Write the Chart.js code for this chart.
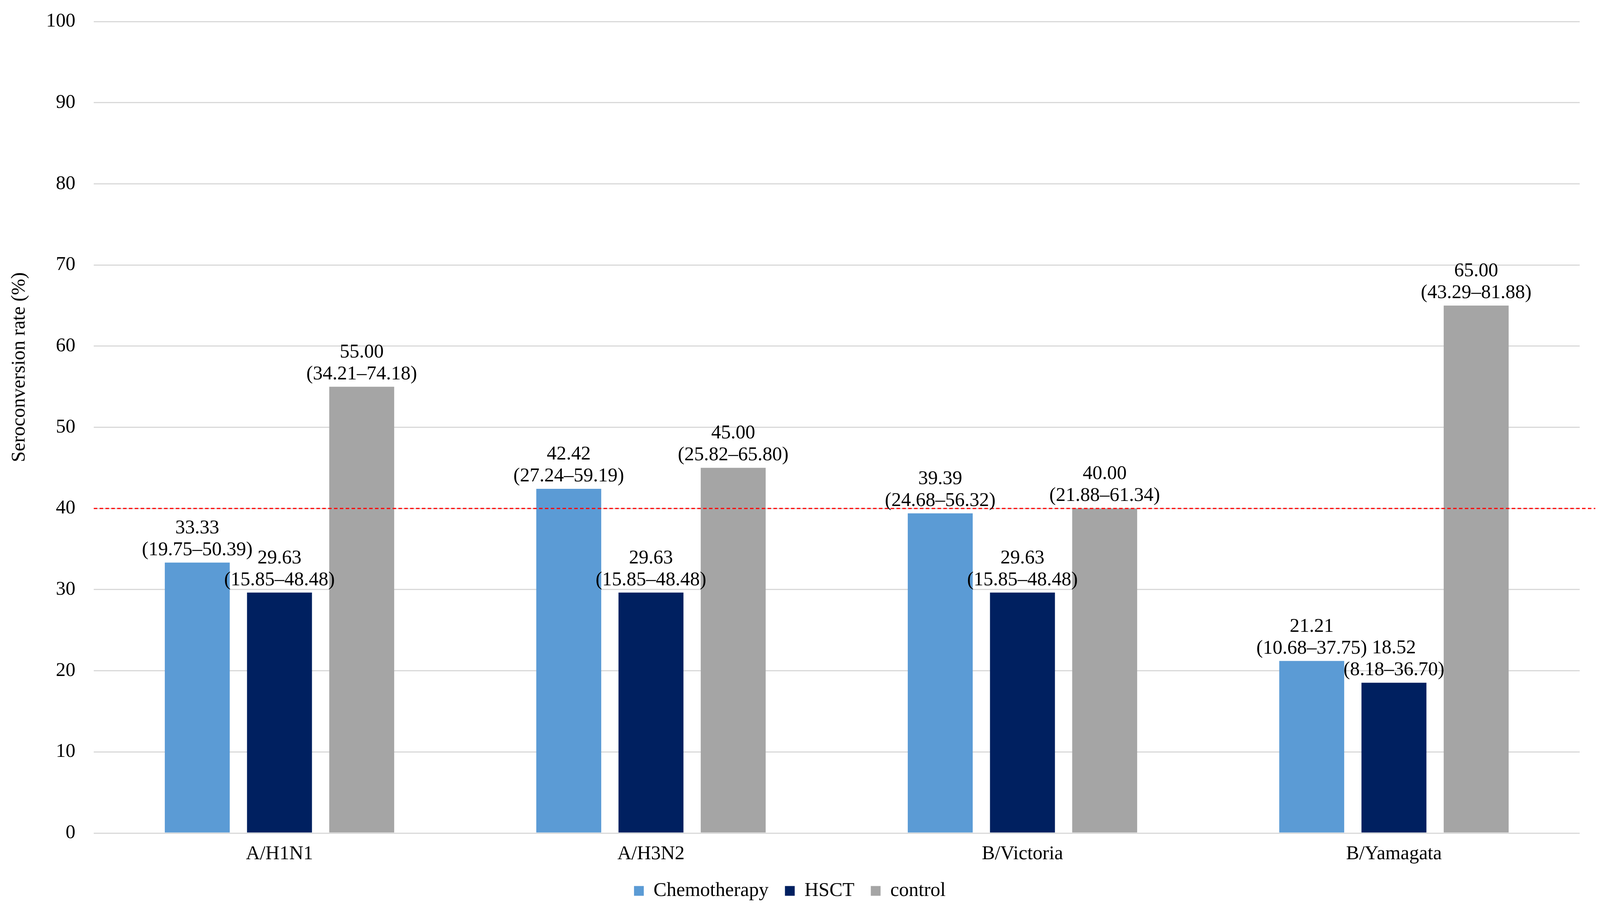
<!DOCTYPE html>
<html>
<head>
<meta charset="utf-8">
<script src="https://cdn.jsdelivr.net/npm/chart.js@4.4.0/dist/chart.umd.min.js"></script>
<style>
  html, body { margin: 0; padding: 0; background: #fff; }
  #wrap { width: 4117px; height: 2334px; }
</style>
</head>
<body>
<div id="wrap"><canvas id="chart" width="4117" height="2334"></canvas></div>
<script>
// --- Data ---
const categories = ['A/H1N1', 'A/H3N2', 'B/Victoria', 'B/Yamagata'];
const chemoValues = [33.33, 42.42, 39.39, 21.21];
const chemoCI = ['19.75–50.39', '27.24–59.19', '24.68–56.32', '10.68–37.75'];
const hsctValues = [29.63, 29.63, 29.63, 18.52];
const hsctCI = ['15.85–48.48', '15.85–48.48', '15.85–48.48', '8.18–36.70'];
const controlValues = [55.00, 45.00, 40.00, 65.00];
const controlCI = ['34.21–74.18', '25.82–65.80', '21.88–61.34', '43.29–81.88'];
const yTicks = [0, 10, 20, 30, 40, 50, 60, 70, 80, 90, 100];
const threshold = 40;
const yTitle = 'Seroconversion rate (%)';

const FONT = '"Liberation Serif", "Times New Roman", serif';
const ciLists = [chemoCI, hsctCI, controlCI];

// --- Plugins ---
const extras = {
    id: 'extras',
    beforeLayout(chart) {
        // keep the legend compact vertically while spacing items wider
        const legend = chart.legend;
        if (legend && !legend._patched) {
            const origFit = legend.fit;
            legend.fit = function () {
                origFit.call(this);
                this.height = 121;
            };
            legend._patched = true;
        }
    },
    afterDatasetsDraw(chart) {
        const { ctx, chartArea, scales } = chart;
        // dashed threshold line (runs a little past the plot, as in the original)
        const yPos = scales.y.getPixelForValue(threshold);
        ctx.save();
        ctx.strokeStyle = '#ff0000';
        ctx.lineWidth = 3;
        ctx.setLineDash([9, 6]);
        ctx.beginPath();
        ctx.moveTo(chartArea.left, yPos);
        ctx.lineTo(chartArea.right + 40, yPos);
        ctx.stroke();
        ctx.restore();

        // value labels with confidence intervals
        ctx.save();
        ctx.fillStyle = '#000';
        ctx.font = '50px ' + FONT;
        ctx.textAlign = 'center';
        ctx.textBaseline = 'middle';
        chart.data.datasets.forEach((ds, di) => {
            const meta = chart.getDatasetMeta(di);
            meta.data.forEach((bar, i) => {
                ctx.fillText(ds.data[i].toFixed(2), bar.x, bar.y - 88);
                ctx.fillText('(' + ciLists[di][i] + ')', bar.x, bar.y - 32);
            });
        });
        ctx.restore();

        // y axis title
        ctx.save();
        ctx.fillStyle = '#000';
        ctx.font = '50px ' + FONT;
        ctx.textAlign = 'center';
        ctx.textBaseline = 'middle';
        ctx.translate(50, chartArea.top + 0.426 * (chartArea.bottom - chartArea.top));
        ctx.rotate(-Math.PI / 2);
        ctx.fillText(yTitle, 0, 0);
        ctx.restore();
    }
};

// --- Chart ---
const ctx = document.getElementById('chart');
new Chart(ctx, {
    type: 'bar',
    data: {
        labels: categories,
        datasets: [
            { label: 'Chemotherapy', data: chemoValues, backgroundColor: '#5b9bd5' },
            { label: 'HSCT', data: hsctValues, backgroundColor: '#002060' },
            { label: 'control', data: controlValues, backgroundColor: '#a5a5a5' }
        ]
    },
    options: {
        responsive: false,
        devicePixelRatio: 1,
        animation: false,
        categoryPercentage: 0.664,
        barPercentage: 0.79,
        layout: { padding: { top: 55, right: 73, left: 0, bottom: 0 } },
        scales: {
            x: {
                grid: { display: false },
                border: { display: false },
                ticks: { color: '#000', font: { family: FONT, size: 50 }, padding: 16 },
                afterFit(scale) { scale.height = 81; }
            },
            y: {
                min: 0,
                max: 100,
                afterBuildTicks(scale) { scale.ticks = yTicks.map(v => ({ value: v })); },
                grid: { color: '#d9d9d9', lineWidth: 3, drawTicks: false },
                border: { display: false },
                ticks: { color: '#000', font: { family: FONT, size: 50 }, padding: 47 },
                afterFit(scale) {
                    scale.width = 240;
                    scale.paddingTop = 0;
                    scale.paddingBottom = 0;
                }
            }
        },
        plugins: {
            legend: {
                position: 'bottom',
                labels: {
                    color: '#000',
                    font: { family: FONT, size: 50 },
                    boxWidth: 25,
                    boxHeight: 25,
                    padding: 42
                }
            },
            tooltip: { enabled: false }
        }
    },
    plugins: [extras]
});
</script>
</body>
</html>
